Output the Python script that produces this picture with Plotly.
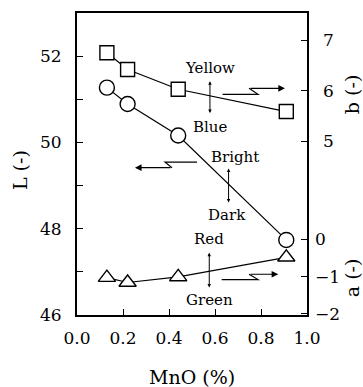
import plotly.graph_objects as go

# Data
mno = [0.13, 0.22, 0.44, 0.91]
L_vals = [51.27, 50.89, 50.16, 47.74]
b_vals = [6.75, 6.42, 6.03, 5.59]
a_vals = [-1.03, -1.16, -1.01, -0.48]

x_ticks = [0.0, 0.2, 0.4, 0.6, 0.8, 1.0]
x_ticklabels = ["0.0", "0.2", "0.4", "0.6", "0.8", "1.0"]
L_ticks = [46, 47, 48, 49, 50, 51, 52, 53]
L_ticklabels = ["46", "", "48", "", "50", "", "52", ""]
b_ticks = [5, 6, 7]
a_ticks = [-2, -1, 0]

FONT = "DejaVu Serif"

fig = go.Figure()
marker_line = dict(color="black", width=1.4)
fig.add_trace(go.Scatter(x=mno, y=L_vals, mode="lines+markers", yaxis="y",
                         line=dict(color="black", width=1.2),
                         marker=dict(symbol="circle", size=15, color="white", line=marker_line),
                         showlegend=False, cliponaxis=False))
fig.add_trace(go.Scatter(x=mno, y=b_vals, mode="lines+markers", yaxis="y2",
                         line=dict(color="black", width=1.2),
                         marker=dict(symbol="square", size=14, color="white", line=marker_line),
                         showlegend=False, cliponaxis=False))
fig.add_trace(go.Scatter(x=mno, y=a_vals, mode="lines+markers", yaxis="y3",
                         line=dict(color="black", width=1.2),
                         marker=dict(symbol="triangle-up", size=15, color="white", line=marker_line),
                         showlegend=False, cliponaxis=False))

tickfont = dict(family=FONT, size=17, color="black")

fig.update_layout(
    width=363, height=387,
    margin=dict(l=77, r=56, t=13, b=72),
    paper_bgcolor="white", plot_bgcolor="white",
    font=dict(family=FONT, color="black"),
    xaxis=dict(range=[0, 1], tickvals=x_ticks, ticktext=x_ticklabels,
               ticks="inside", ticklen=6, tickwidth=1.2, tickcolor="black",
               showline=True, linewidth=2, linecolor="black", mirror=True,
               showgrid=False, zeroline=False, tickfont=tickfont,
               ticklabelstandoff=7),
    yaxis=dict(range=[46, 53], tickvals=L_ticks, ticktext=L_ticklabels,
               ticks="inside", ticklen=6, tickwidth=1.2, tickcolor="black",
               showline=True, linewidth=2, linecolor="black", mirror=True,
               showgrid=False, zeroline=False, tickfont=tickfont,
               ticklabelstandoff=10),
    yaxis2=dict(range=[1.582, 7.532], tickvals=b_ticks, overlaying="y", side="right",
                anchor="x", ticks="inside", ticklen=6, tickwidth=1.2, tickcolor="black",
                showline=False, showgrid=False, zeroline=False, tickfont=tickfont,
                ticklabelstandoff=15),
    yaxis3=dict(range=[-2.038, 6.116], tickvals=a_ticks, overlaying="y", side="right",
                anchor="x", ticks="inside", ticklen=6, tickwidth=1.2, tickcolor="black",
                showline=False, showgrid=False, zeroline=False, tickfont=tickfont,
                ticklabelstandoff=7),
)

ann_font = dict(family=FONT, size=15, color="black")
labels = [("Yellow", 0.578, 51.72), ("Blue", 0.578, 50.35), ("Bright", 0.687, 49.66),
          ("Dark", 0.652, 48.31), ("Red", 0.574, 47.76), ("Green", 0.574, 46.34)]
for t, x, y in labels:
    fig.add_annotation(text=t, x=x, y=y, xref="x", yref="y", showarrow=False, font=ann_font)

# double-headed vertical arrows
for x, y0, y1 in [(0.578, 51.45, 50.68), (0.659, 49.43, 48.61), (0.575, 47.48, 46.64)]:
    fig.add_annotation(x=x, y=y1, ax=x, ay=y0, xref="x", yref="y", axref="x", ayref="y",
                       text="", showarrow=True, arrowhead=2, startarrowhead=2,
                       arrowside="end+start", arrowsize=0.7, arrowwidth=1, arrowcolor="black")

# broken arrows
broken = [
    [(0.522, 49.543), (0.383, 49.543), (0.413, 49.415), (0.252, 49.415)],
    [(0.633, 51.114), (0.787, 51.114), (0.748, 51.253), (0.904, 51.253)],
    [(0.629, 46.821), (0.787, 46.821), (0.748, 46.944), (0.875, 46.944)],
]
for pts in broken:
    path = "M {} {} L {} {} L {} {}".format(pts[0][0], pts[0][1], pts[1][0], pts[1][1],
                                            pts[2][0], pts[2][1])
    fig.add_shape(type="path", path=path, xref="x", yref="y",
                  line=dict(color="black", width=1.2))
    fig.add_annotation(x=pts[3][0], y=pts[3][1], ax=pts[2][0], ay=pts[2][1],
                       xref="x", yref="y", axref="x", ayref="y", text="",
                       showarrow=True, arrowhead=2, arrowsize=1.1, arrowwidth=1.2,
                       arrowcolor="black", standoff=0, startstandoff=0)

title_font = dict(family=FONT, size=19, color="black")
fig.add_annotation(text="MnO (%)", x=0.5, y=0, xref="paper", yref="paper",
                   yshift=-62, showarrow=False, font=title_font, yanchor="middle")
fig.add_annotation(text="L (-)", x=0, y=0.48, xref="paper", yref="paper",
                   xshift=-57, showarrow=False, font=title_font, textangle=-90,
                   xanchor="center", yanchor="middle")
fig.add_annotation(text="b (-)", x=1, y=0.728, xref="paper", yref="paper",
                   xshift=45, showarrow=False, font=title_font, textangle=-90,
                   xanchor="center", yanchor="middle")
fig.add_annotation(text="a (-)", x=1, y=0.122, xref="paper", yref="paper",
                   xshift=45, showarrow=False, font=title_font, textangle=-90,
                   xanchor="center", yanchor="middle")

fig.write_html("out.html")
